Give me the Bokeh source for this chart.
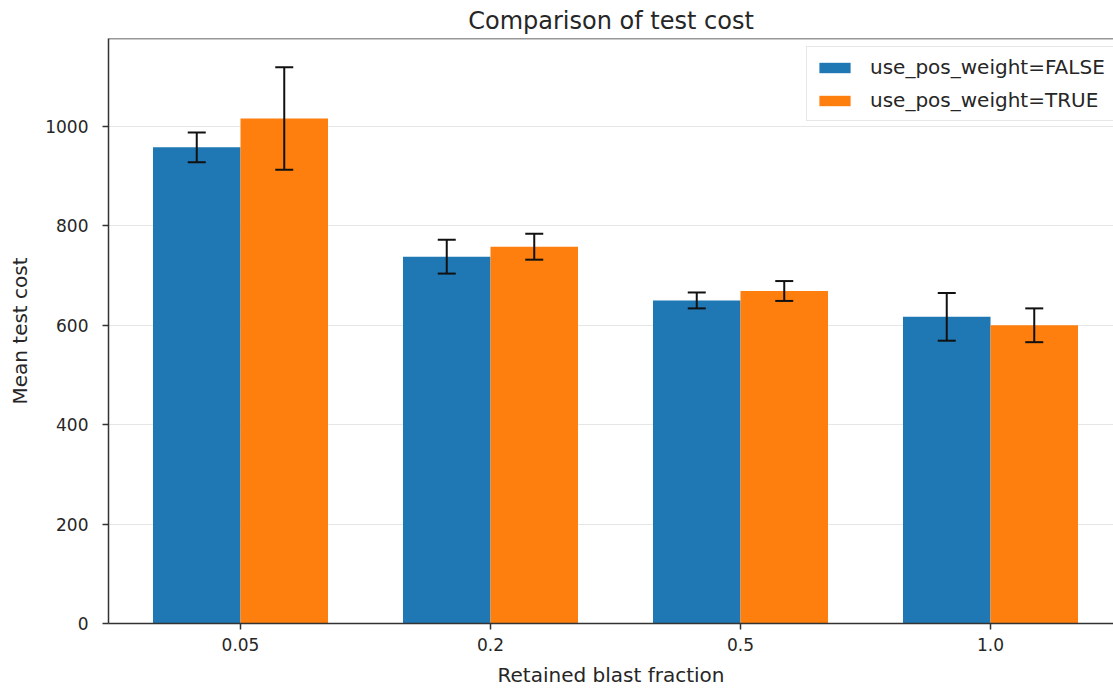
from bokeh.plotting import figure
from bokeh.models import (ColumnDataSource, Range1d, FixedTicker, Whisker, TeeHead,
                          Legend, LegendItem, Span)
from bokeh.embed import file_html
from bokeh.resources import INLINE

categories = ["0.05", "0.2", "0.5", "1.0"]
false_means = [958, 738, 650, 617]
false_err = [30, 34, 16, 48]
true_means = [1016, 758, 669, 600]
true_err = [103, 26, 20, 34]
series_labels = ["use_pos_weight=FALSE", "use_pos_weight=TRUE"]
colors = ["#1f77b4", "#ff7f0e"]

bar_w = 0.35
idx = list(range(len(categories)))

def make_src(offset, means, errs):
    return ColumnDataSource(dict(
        x=[i + offset for i in idx],
        top=means,
        upper=[m + e for m, e in zip(means, errs)],
        lower=[m - e for m, e in zip(means, errs)],
    ))

src_f = make_src(-bar_w / 2, false_means, false_err)
src_t = make_src(bar_w / 2, true_means, true_err)

FONT = "DejaVu Sans"
TXT = "#262626"

p = figure(width=1113, height=688, output_backend="svg", toolbar_location=None,
           x_range=Range1d(-0.528, 3.492), y_range=Range1d(0, 1177),
           min_border_left=108, min_border_right=0, min_border_top=38,
           min_border_bottom=65, frame_width=1005, frame_height=585,
           title="Comparison of test cost")

p.title.align = "center"
p.title.text_font = FONT
p.title.text_font_size = "24px"
p.title.text_font_style = "normal"
p.title.text_color = TXT
p.title.offset = 0
p.title.standoff = 8

r_f = p.vbar(x="x", top="top", width=bar_w, source=src_f, fill_color=colors[0],
             line_color=None)
r_t = p.vbar(x="x", top="top", width=bar_w, source=src_t, fill_color=colors[1],
             line_color=None)

for src in (src_f, src_t):
    w = Whisker(base="x", upper="upper", lower="lower", source=src,
                dimension="height", line_color="#111111", line_width=2,
                level="overlay",
                upper_head=TeeHead(size=18, line_color="#111111", line_width=2),
                lower_head=TeeHead(size=18, line_color="#111111", line_width=2))
    p.add_layout(w)

p.xaxis.ticker = FixedTicker(ticks=idx)
p.xaxis.major_label_overrides = {i: c for i, c in zip(idx, categories)}
p.yaxis.ticker = FixedTicker(ticks=[0, 200, 400, 600, 800, 1000])

for ax in (p.xaxis, p.yaxis):
    ax.major_label_text_font = FONT
    ax.major_label_text_font_size = "17px"
    ax.major_label_text_color = TXT
    ax.axis_label_text_font = FONT
    ax.axis_label_text_font_size = "20px"
    ax.axis_label_text_font_style = "normal"
    ax.axis_label_text_color = TXT
    ax.axis_line_color = "#333333"
    ax.axis_line_width = 1.5
    ax.major_tick_line_color = "#333333"
    ax.major_tick_line_width = 1.5
    ax.major_tick_out = 6
    ax.major_tick_in = 0
    ax.minor_tick_line_color = None

p.xaxis.axis_label = "Retained blast fraction"
p.yaxis.axis_label = "Mean test cost"
p.xaxis.major_label_standoff = 8
p.xaxis.axis_label_standoff = 9
p.yaxis.major_label_standoff = 14
p.yaxis.axis_label_standoff = 10

p.xgrid.grid_line_color = None
p.ygrid.grid_line_color = "#e6e6e6"
p.ygrid.grid_line_width = 1.2
p.outline_line_color = None
p.add_layout(Span(location=1177, dimension="width", line_color="#333333",
                  line_width=1.5))

legend = Legend(items=[LegendItem(label=series_labels[0], renderers=[r_f]),
                       LegendItem(label=series_labels[1], renderers=[r_t])],
                location=(698, 502))
legend.label_text_font = FONT
legend.label_text_font_size = "20px"
legend.label_text_color = TXT
legend.glyph_width = 39
legend.glyph_height = 13
legend.label_height = 18
legend.label_standoff = 16
legend.spacing = 9
legend.padding = 8
legend.margin = 0
legend.border_line_color = "#d0d0d0"
legend.border_line_width = 1
legend.background_fill_alpha = 0.8
p.add_layout(legend)

p.background_fill_color = "white"
p.border_fill_color = "white"

open("out.html", "w").write(file_html(p, INLINE))
